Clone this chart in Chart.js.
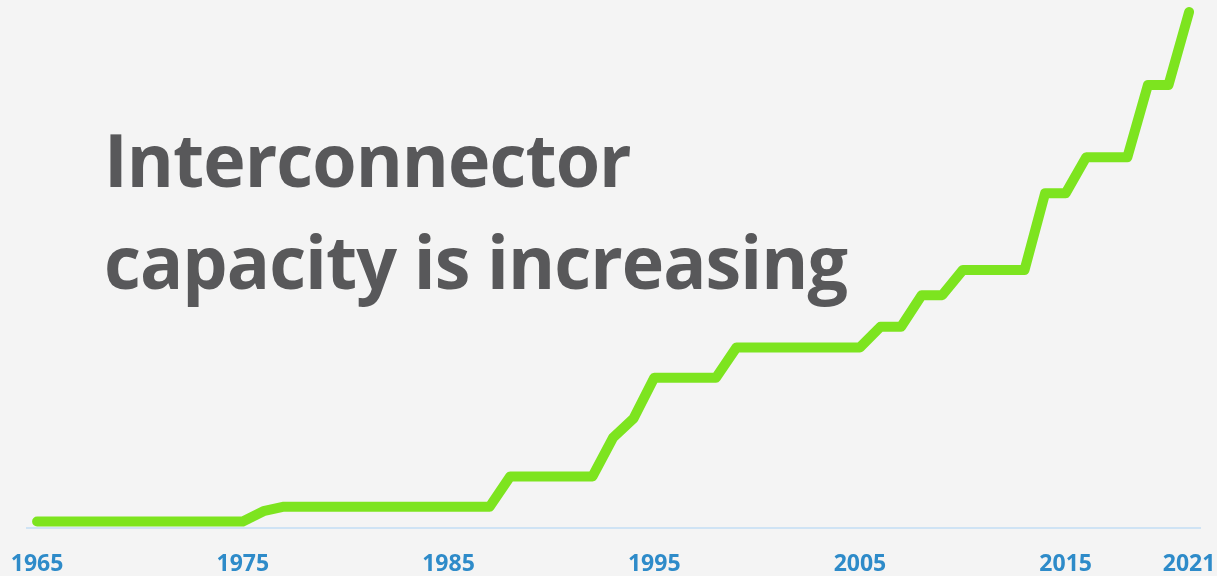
<!DOCTYPE html>
<html>
<head>
<meta charset="utf-8">
<title>Interconnector capacity</title>
<script src="https://cdn.jsdelivr.net/npm/chart.js@4.4.1/dist/chart.umd.min.js"></script>
<style>
  html, body { margin: 0; padding: 0; background: #f4f4f4; }
  #wrap { position: relative; width: 1217px; height: 576px; overflow: hidden; }
  #headline {
    position: absolute; left: 104px; top: 108px;
    font-family: "Open Sans", sans-serif; font-weight: 700;
    font-size: 74px; line-height: 102px; color: #58585a;
    letter-spacing: -1px; white-space: nowrap;
    transform: scaleX(0.97); transform-origin: left top;
  }
</style>
</head>
<body>
<div id="wrap">
  <canvas id="chart" width="1217" height="576"></canvas>
  <div id="headline">Interconnector<br>capacity is increasing</div>
</div>
<script>
// installed interconnector capacity by year (MW)
const years = [1965, 1966, 1967, 1968, 1969, 1970, 1971, 1972, 1973, 1974, 1975,
               1976, 1977, 1978, 1979, 1980, 1981, 1982, 1983, 1984, 1985, 1986,
               1987, 1988, 1989, 1990, 1991, 1992, 1993, 1994, 1995, 1996, 1997,
               1998, 1999, 2000, 2001, 2002, 2003, 2004, 2005, 2006, 2007, 2008,
               2009, 2010, 2011, 2012, 2013, 2014, 2015, 2016, 2017, 2018, 2019,
               2020, 2021];
const capacityMW = [100, 100, 100, 100, 100, 100, 100, 100, 100, 100, 100,
                    260, 330, 330, 330, 330, 330, 330, 330, 330, 330, 330,
                    330, 800, 800, 800, 800, 800, 1400, 1700, 2330, 2330, 2330,
                    2330, 2800, 2800, 2800, 2800, 2800, 2800, 2800, 3120, 3120, 3610,
                    3610, 4000, 4000, 4000, 4000, 5190, 5190, 5750, 5750, 5750, 6870,
                    6870, 8000];
const tickYears = [1965, 1975, 1985, 1995, 2005, 2015, 2021];

const points = years.map((yr, i) => ({ x: yr, y: capacityMW[i] }));

new Chart(document.getElementById('chart'), {
    type: 'line',
    data: {
        datasets: [{
            data: points,
            borderColor: '#7de41f',
            borderWidth: 10,
            borderCapStyle: 'round',
            borderJoinStyle: 'round',
            pointRadius: 0,
            tension: 0,
            fill: false,
            clip: false
        }]
    },
    options: {
        responsive: false,
        animation: false,
        layout: { padding: { left: 27, right: 17, top: 12, bottom: 0 } },
        plugins: { legend: { display: false }, tooltip: { enabled: false } },
        scales: {
            x: {
                type: 'linear',
                min: 1964.51,
                max: 2021.53,
                grid: { display: false, drawTicks: false },
                border: { display: true, color: '#cfe3f4', width: 2 },
                afterBuildTicks: (scale) => {
                    scale.ticks = tickYears.map(v => ({ value: v }));
                },
                afterFit: (scale) => {
                    // keep the plot edges fixed; end labels may hang over
                    scale.height = 48;
                    scale.paddingLeft = 0;
                    scale.paddingRight = 0;
                },
                ticks: {
                    autoSkip: false,
                    maxRotation: 0,
                    padding: 23,
                    color: '#2e8bc9',
                    font: { family: 'Open Sans', weight: 'bold', size: 23 },
                    callback: (v) => String(v)
                }
            },
            y: {
                display: false,
                min: 0,
                max: 8000
            }
        }
    }
});
</script>
</body>
</html>
